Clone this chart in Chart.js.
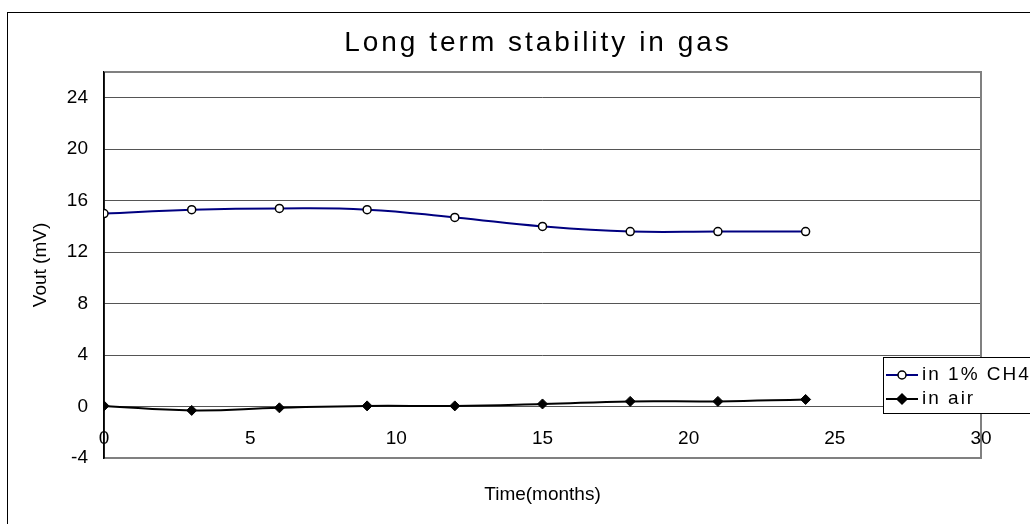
<!DOCTYPE html>
<html>
<head>
<meta charset="utf-8">
<script src="https://cdn.jsdelivr.net/npm/chart.js@4.4.1/dist/chart.umd.min.js"></script>
<style>
html,body{margin:0;padding:0;background:#fff;overflow:hidden;}
canvas{display:block;}
</style>
</head>
<body>
<canvas id="c" width="1030" height="524"></canvas>
<script>
const months = [0, 3, 6, 9, 12, 15, 18, 21, 24];
const ch4Values = [15.0, 15.3, 15.4, 15.3, 14.7, 14.0, 13.6, 13.6, 13.6];
const airValues = [0.05, -0.3, -0.1, 0.05, 0.05, 0.2, 0.4, 0.4, 0.55];
const yTickValues = [-4, 0, 4, 8, 12, 16, 20, 24];
const seriesNames = ['in 1% CH4', 'in air'];
const titleText = 'Long term stability in gas';
const xTitle = 'Time(months)';
const yTitle = 'Vout (mV)';

const FONT = 'Arial, "Liberation Sans", sans-serif';

const framePlugin = {
  id: 'frame',
  beforeDraw(chart) {
    const ctx = chart.ctx;
    ctx.save();
    ctx.fillStyle = '#fff';
    ctx.fillRect(0, 0, chart.width, chart.height);
    ctx.strokeStyle = '#000';
    ctx.lineWidth = 1;
    ctx.strokeRect(7.5, 12.5, 1040, 520);
    // title
    ctx.fillStyle = '#000';
    ctx.font = '28px ' + FONT;
    ctx.textAlign = 'center';
    ctx.textBaseline = 'middle';
    if ('letterSpacing' in ctx) ctx.letterSpacing = '3px';
    ctx.fillText(titleText, 538, 43);
    ctx.restore();
  },
  beforeDatasetsDraw(chart) {
    const a = chart.chartArea;
    const ctx = chart.ctx;
    ctx.save();
    ctx.strokeStyle = '#808080';
    ctx.lineWidth = 2;
    ctx.beginPath();
    ctx.moveTo(a.left, a.top);
    ctx.lineTo(a.right, a.top);
    ctx.lineTo(a.right, a.bottom);
    ctx.stroke();
    ctx.strokeStyle = '#000';
    ctx.lineWidth = 1.5;
    ctx.beginPath();
    ctx.moveTo(a.left, a.top);
    ctx.lineTo(a.left, a.bottom);
    ctx.stroke();
    // x tick labels inside the plot area, above the bottom axis
    const xs = chart.scales.x;
    ctx.fillStyle = '#000';
    ctx.font = '19px ' + FONT;
    ctx.textAlign = 'center';
    ctx.textBaseline = 'middle';
    xs.ticks.forEach(t => {
      ctx.fillText(String(t.value), xs.getPixelForValue(t.value), a.bottom - 19);
    });
    ctx.restore();
  },
  afterDraw(chart) {
    const ctx = chart.ctx;
    ctx.save();
    // legend box
    const lx = 883, ly = 357, lw = 150, lh = 56;
    ctx.fillStyle = '#fff';
    ctx.fillRect(lx, ly, lw, lh);
    ctx.strokeStyle = '#000';
    ctx.lineWidth = 1;
    ctx.strokeRect(lx + 0.5, ly + 0.5, lw, lh);
    ctx.font = '19px ' + FONT;
    if ('letterSpacing' in ctx) ctx.letterSpacing = '2px';
    ctx.textBaseline = 'middle';
    ctx.textAlign = 'left';
    chart.data.datasets.forEach((ds, i) => {
      const y = ly + 18 + i * 24;
      ctx.strokeStyle = ds.borderColor;
      ctx.lineWidth = 2;
      ctx.beginPath();
      ctx.moveTo(lx + 3, y);
      ctx.lineTo(lx + 35, y);
      ctx.stroke();
      ctx.fillStyle = ds.pointBackgroundColor;
      ctx.strokeStyle = ds.pointBorderColor;
      ctx.lineWidth = 1.5;
      ctx.beginPath();
      if (ds.pointStyle === 'rectRot') {
        ctx.moveTo(lx + 19, y - 5);
        ctx.lineTo(lx + 24, y);
        ctx.lineTo(lx + 19, y + 5);
        ctx.lineTo(lx + 14, y);
        ctx.closePath();
      } else {
        ctx.arc(lx + 19, y, 4, 0, Math.PI * 2);
      }
      ctx.fill();
      ctx.stroke();
      ctx.fillStyle = '#000';
      ctx.fillText(ds.label, lx + 39, y);
    });
    ctx.restore();
  }
};

new Chart(document.getElementById('c'), {
  type: 'line',
  data: {
    datasets: [
      {
        label: seriesNames[0],
        data: months.map((m, i) => ({x: m, y: ch4Values[i]})),
        borderColor: '#000080',
        borderWidth: 2,
        tension: 0.45,
        pointStyle: 'circle',
        pointRadius: 4,
        pointBackgroundColor: '#fff',
        pointBorderColor: '#000',
        pointBorderWidth: 1.5
      },
      {
        label: seriesNames[1],
        data: months.map((m, i) => ({x: m, y: airValues[i]})),
        borderColor: '#000',
        borderWidth: 2,
        tension: 0.45,
        pointStyle: 'rectRot',
        pointRadius: 5,
        pointBackgroundColor: '#000',
        pointBorderColor: '#000',
        pointBorderWidth: 1
      }
    ]
  },
  options: {
    responsive: false,
    animation: false,
    layout: {padding: {left: 0, top: 72, right: 49, bottom: 0}},
    plugins: {
      legend: {display: false},
      tooltip: {enabled: false},
      title: {display: false}
    },
    scales: {
      x: {
        type: 'linear',
        min: 0,
        max: 30,
        ticks: {stepSize: 5, display: false},
        grid: {display: false, drawTicks: false},
        border: {display: true, color: '#808080', width: 2},
        title: {display: true, text: xTitle, color: '#000', font: {family: FONT, size: 19}, padding: {top: 0, bottom: 18}},
        afterFit(scale) { scale.height = 66; }
      },
      y: {
        min: -4,
        max: 26,
        afterBuildTicks(scale) { scale.ticks = yTickValues.map(v => ({value: v})); },
        ticks: {color: '#000', font: {family: FONT, size: 19}, padding: 16},
        grid: {color: '#555', lineWidth: 1, drawTicks: false},
        border: {display: true, color: '#000', width: 1.5},
        title: {display: true, text: yTitle, color: '#000', font: {family: FONT, size: 19}, padding: {top: 29, bottom: 0}},
        afterFit(scale) { scale.width = 104; }
      }
    }
  },
  plugins: [framePlugin]
});
</script>
</body>
</html>
